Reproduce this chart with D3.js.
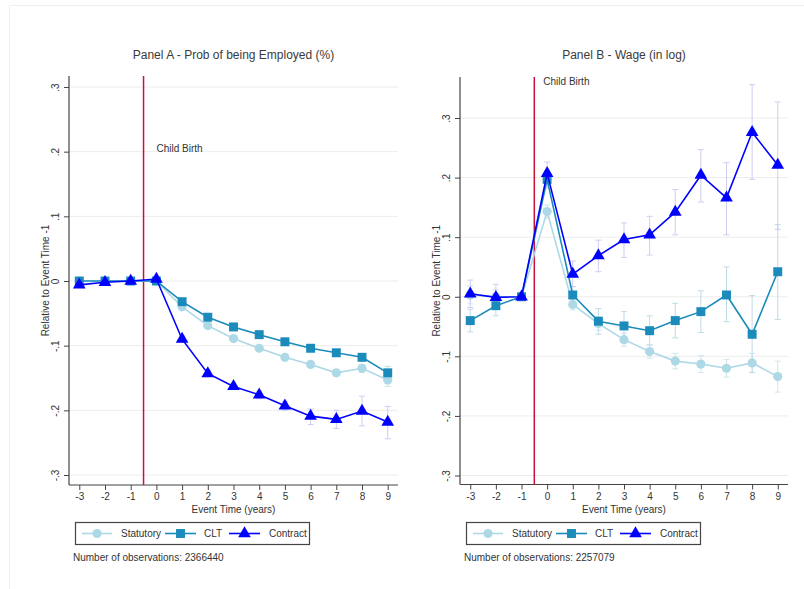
<!DOCTYPE html>
<html>
<head>
<meta charset="utf-8">
<script src="https://cdn.jsdelivr.net/npm/d3@7"></script>
<style>
  html, body { margin: 0; padding: 0; background: #fff; }
  svg { display: block; font-family: "Liberation Sans", Arial, sans-serif; }
</style>
</head>
<body>
<svg id="chart" width="804" height="589"></svg>
<script>
// Event time (years relative to child birth)
const eventTime = [-3, -2, -1, 0, 1, 2, 3, 4, 5, 6, 7, 8, 9];
const xTickLabels = ["-3", "-2", "-1", "0", "1", "2", "3", "4", "5", "6", "7", "8", "9"];
const yTickValues = [-0.3, -0.2, -0.1, 0, 0.1, 0.2, 0.3];
const yTickLabels = ["-.3", "-.2", "-.1", "0", ".1", ".2", ".3"];
const seriesNames = ["Statutory", "CLT", "Contract"];

// Panel A: probability of being employed
const empStatutory   = [0, 0, 0, 0, -0.040, -0.069, -0.089, -0.104, -0.118, -0.129, -0.142, -0.135, -0.153];
const empStatutoryLo = [-0.003, -0.002, 0, -0.003, -0.043, -0.072, -0.092, -0.107, -0.122, -0.133, -0.147, -0.141, -0.163];
const empStatutoryHi = [0.003, 0.002, 0, 0.003, -0.037, -0.066, -0.086, -0.101, -0.114, -0.125, -0.137, -0.129, -0.143];
const empCLT   = [0, 0, 0, 0, -0.032, -0.056, -0.071, -0.083, -0.094, -0.104, -0.111, -0.118, -0.142];
const empCLTLo = [-0.002, -0.002, 0, -0.003, -0.035, -0.059, -0.074, -0.086, -0.098, -0.108, -0.116, -0.124, -0.152];
const empCLTHi = [0.002, 0.002, 0, 0.003, -0.029, -0.053, -0.068, -0.080, -0.090, -0.100, -0.106, -0.112, -0.132];
const empContract   = [-0.006, -0.002, 0, 0.003, -0.090, -0.143, -0.163, -0.176, -0.193, -0.209, -0.214, -0.201, -0.218];
const empContractLo = [-0.010, -0.005, 0, -0.001, -0.095, -0.148, -0.168, -0.182, -0.200, -0.222, -0.228, -0.224, -0.244];
const empContractHi = [-0.002, 0.001, 0, 0.007, -0.085, -0.138, -0.158, -0.170, -0.186, -0.198, -0.200, -0.178, -0.194];

// Panel B: log wage
const wageStatutory   = [0.003, 0, 0, 0.143, -0.013, -0.045, -0.072, -0.092, -0.108, -0.113, -0.120, -0.111, -0.134];
const wageStatutoryLo = [-0.012, -0.012, 0, 0.132, -0.022, -0.056, -0.083, -0.103, -0.121, -0.127, -0.135, -0.127, -0.160];
const wageStatutoryHi = [0.018, 0.012, 0, 0.154, -0.004, -0.034, -0.061, -0.081, -0.095, -0.099, -0.105, -0.095, -0.108];
const wageCLT   = [-0.040, -0.015, 0, 0.197, 0.003, -0.041, -0.049, -0.057, -0.040, -0.025, 0.003, -0.063, 0.042];
const wageCLTLo = [-0.059, -0.032, 0, 0.182, -0.011, -0.063, -0.072, -0.081, -0.069, -0.060, -0.042, -0.127, -0.038];
const wageCLTHi = [-0.021, 0.002, 0, 0.212, 0.017, -0.020, -0.025, -0.032, -0.011, 0.010, 0.050, 0.002, 0.121];
const wageContract   = [0.005, -0.001, 0, 0.207, 0.038, 0.069, 0.096, 0.104, 0.142, 0.204, 0.166, 0.276, 0.221];
const wageContractLo = [-0.018, -0.020, 0, 0.188, 0.017, 0.042, 0.066, 0.070, 0.104, 0.159, 0.104, 0.197, 0.113];
const wageContractHi = [0.028, 0.021, 0, 0.226, 0.060, 0.095, 0.124, 0.135, 0.180, 0.247, 0.225, 0.356, 0.327];

const colors = { Statutory: "#add8e6", CLT: "#1a8bba", Contract: "#0000ff" };
const ciColors = { Statutory: "#cfe5ed", CLT: "#bfdbe6", Contract: "#cdcdf2" };
const symbols = { Statutory: d3.symbolCircle, CLT: d3.symbolSquare, Contract: d3.symbolTriangle };
const symbolSizes = { Statutory: 66, CLT: 80, Contract: 70 };

const svg = d3.select("#chart");

// faint outer frame
svg.append("rect").attr("x", 9.5).attr("y", 5.5).attr("width", 800).attr("height", 600)
  .attr("fill", "none").attr("stroke", "#eeeeee");

const panels = [
  {
    title: "Panel A - Prob of being Employed (%)",
    left: 69, right: 398, top: 76, bottom: 485,
    yAt0: 475, yAt1: 87,
    birthLabelY: 0.205, birthLabelDx: 13,
    obs: "Number of observations: 2366440",
    legendX: 75,
    series: {
      Statutory: [empStatutory, empStatutoryLo, empStatutoryHi],
      CLT: [empCLT, empCLTLo, empCLTHi],
      Contract: [empContract, empContractLo, empContractHi]
    }
  },
  {
    title: "Panel B - Wage (in log)",
    left: 460, right: 788, top: 77, bottom: 484.5,
    yAt0: 475.5, yAt1: 118,
    birthLabelY: 0.361, birthLabelDx: 9,
    obs: "Number of observations: 2257079",
    legendX: 466,
    series: {
      Statutory: [wageStatutory, wageStatutoryLo, wageStatutoryHi],
      CLT: [wageCLT, wageCLTLo, wageCLTHi],
      Contract: [wageContract, wageContractLo, wageContractHi]
    }
  }
];

panels.forEach(p => {
  const g = svg.append("g");
  const x = d3.scaleLinear().domain([-3.4, 9.4]).range([p.left, p.right]);
  const y = d3.scaleLinear().domain([-0.3, 0.3]).range([p.yAt0, p.yAt1]);
  const cx = (p.left + p.right) / 2;

  // title
  g.append("text").attr("x", cx).attr("y", 55).attr("dy", "0.35em")
    .attr("text-anchor", "middle").attr("font-size", 12).attr("fill", "#3a3a3a")
    .text(p.title);

  // gridlines
  g.append("g").selectAll("line").data(yTickValues).join("line")
    .attr("x1", p.left).attr("x2", p.right)
    .attr("y1", d => y(d)).attr("y2", d => y(d))
    .attr("stroke", "#ececec").attr("stroke-width", 1);

  // y axis
  const yAxis = g.append("g").attr("transform", `translate(${p.left},0)`)
    .call(d3.axisLeft(y).tickValues(yTickValues).tickSize(5).tickPadding(8)
      .tickFormat((d, i) => yTickLabels[i]));
  yAxis.select(".domain").remove();
  yAxis.selectAll(".tick line").attr("stroke", "#444");
  yAxis.selectAll(".tick text")
    .attr("x", null).attr("dy", null)
    .attr("text-anchor", "middle").attr("font-size", 10).attr("fill", "#333")
    .attr("font-family", "Liberation Sans, Arial, sans-serif")
    .attr("transform", "translate(-14,0) rotate(-90)")
    .attr("dominant-baseline", "central");

  // x axis
  const xAxis = g.append("g").attr("transform", `translate(0,${p.bottom})`)
    .call(d3.axisBottom(x).tickValues(eventTime).tickSize(5).tickPadding(3)
      .tickFormat((d, i) => xTickLabels[i]));
  xAxis.select(".domain").remove();
  xAxis.selectAll(".tick line").attr("stroke", "#444");
  xAxis.selectAll(".tick text").attr("font-size", 10).attr("fill", "#333")
    .attr("font-family", "Liberation Sans, Arial, sans-serif");

  // axis lines
  g.append("line").attr("x1", p.left).attr("x2", p.left).attr("y1", p.top).attr("y2", p.bottom)
    .attr("stroke", "#444").attr("stroke-width", 1.2);
  g.append("line").attr("x1", p.left).attr("x2", p.right).attr("y1", p.bottom).attr("y2", p.bottom)
    .attr("stroke", "#444").attr("stroke-width", 1.2);

  // axis titles
  g.append("text").attr("x", cx).attr("y", 509).attr("dy", "0.35em")
    .attr("text-anchor", "middle").attr("font-size", 10).attr("fill", "#333")
    .text("Event Time (years)");
  g.append("text")
    .attr("transform", `translate(${p.left - 24},${(p.top + p.bottom) / 2}) rotate(-90)`)
    .attr("dy", "0.35em").attr("text-anchor", "middle").attr("font-size", 10).attr("fill", "#333")
    .text("Relative to Event Time -1");

  // child birth marker
  g.append("line").attr("x1", x(-0.5)).attr("x2", x(-0.5)).attr("y1", p.top).attr("y2", p.bottom)
    .attr("stroke", "#c8103c").attr("stroke-width", 1.5);
  g.append("text").attr("x", x(-0.5) + p.birthLabelDx).attr("y", y(p.birthLabelY))
    .attr("dy", "0.35em").attr("font-size", 10).attr("fill", "#333").text("Child Birth");

  // confidence intervals
  seriesNames.forEach(name => {
    const [vals, lo, hi] = p.series[name];
    const ci = g.append("g").attr("stroke", ciColors[name]).attr("stroke-width", 1).attr("fill", "none");
    eventTime.forEach((t, i) => {
      if (lo[i] === hi[i]) return;
      ci.append("line").attr("x1", x(t)).attr("x2", x(t)).attr("y1", y(lo[i])).attr("y2", y(hi[i]));
      ci.append("line").attr("x1", x(t) - 3).attr("x2", x(t) + 3).attr("y1", y(lo[i])).attr("y2", y(lo[i]));
      ci.append("line").attr("x1", x(t) - 3).attr("x2", x(t) + 3).attr("y1", y(hi[i])).attr("y2", y(hi[i]));
    });
  });

  // series lines and markers
  seriesNames.forEach(name => {
    const vals = p.series[name][0];
    const pts = eventTime.map((t, i) => [t, vals[i]]);
    g.append("path").datum(pts)
      .attr("fill", "none").attr("stroke", colors[name]).attr("stroke-width", 1.6)
      .attr("d", d3.line().x(d => x(d[0])).y(d => y(d[1])));
    g.append("g").selectAll("path").data(pts).join("path")
      .attr("transform", d => `translate(${x(d[0])},${y(d[1])})`)
      .attr("d", d3.symbol(symbols[name], symbolSizes[name]))
      .attr("fill", colors[name]);
  });

  // legend
  const lg = g.append("g").attr("transform", `translate(${p.legendX},522)`);
  lg.append("rect").attr("x", 0.5).attr("y", 0.5).attr("width", 234).attr("height", 22)
    .attr("fill", "#fff").attr("stroke", "#444").attr("stroke-width", 1.2);
  const offsets = [
    { name: "Statutory", l0: 7, l1: 37, tx: 46 },
    { name: "CLT", l0: 90, l1: 121, tx: 129 },
    { name: "Contract", l0: 154, l1: 185, tx: 194 }
  ];
  offsets.forEach(o => {
    lg.append("line").attr("x1", o.l0).attr("x2", o.l1).attr("y1", 11.5).attr("y2", 11.5)
      .attr("stroke", colors[o.name]).attr("stroke-width", 1.6);
    lg.append("path").attr("transform", `translate(${(o.l0 + o.l1) / 2},11.5)`)
      .attr("d", d3.symbol(symbols[o.name], symbolSizes[o.name])).attr("fill", colors[o.name]);
    lg.append("text").attr("x", o.tx).attr("y", 11.5).attr("dy", "0.35em")
      .attr("font-size", 10).attr("fill", "#333").text(o.name);
  });

  // observation count
  g.append("text").attr("x", p.legendX - 2).attr("y", 557).attr("dy", "0.35em")
    .attr("font-size", 10).attr("fill", "#333").text(p.obs);
});
</script>
</body>
</html>
